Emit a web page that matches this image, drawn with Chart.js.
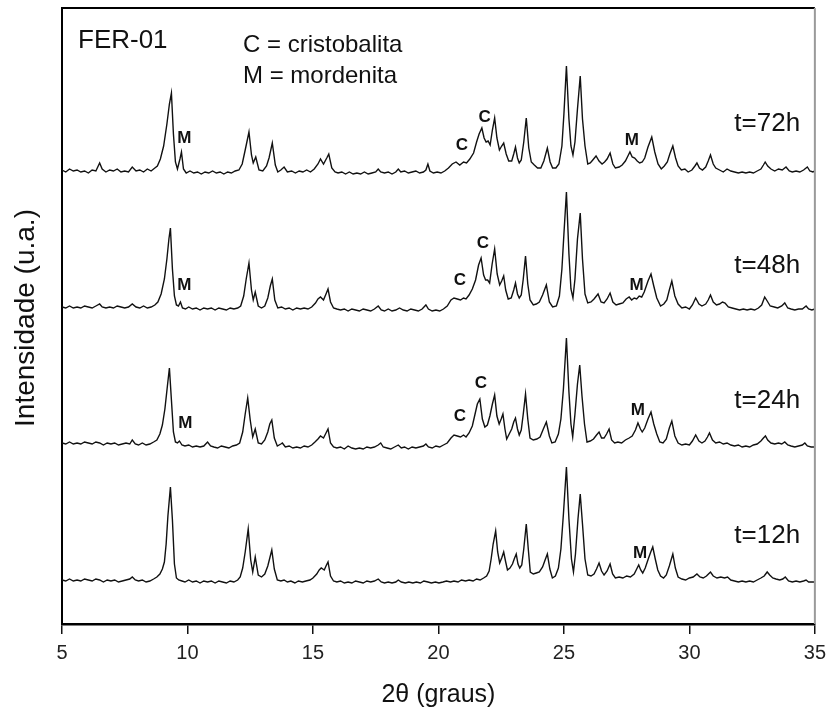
<!DOCTYPE html>
<html>
<head>
<meta charset="utf-8">
<script src="https://cdn.jsdelivr.net/npm/chart.js@4.4.0/dist/chart.umd.min.js"></script>
<style>
  body { margin: 0; background: #fff; }
  #wrap { width: 833px; height: 718px; position: relative; }
</style>
</head>
<body>
<div id="wrap"><canvas id="xrdChart"></canvas></div>
<script>
// 2theta (graus) and stacked intensity (u.a.)
const t72 = [[5.0,454],[5.15,452],[5.3,455],[5.45,453],[5.6,454],[5.75,452],[5.9,453],[6.05,451],[6.2,454],[6.35,453],[6.5,461],[6.6,455],[6.75,452],[6.9,454],[7.05,453],[7.2,455],[7.35,452],[7.5,453],[7.65,452],[7.8,457],[7.95,453],[8.1,454],[8.25,452],[8.4,455],[8.55,453],[8.7,456],[8.8,458],[8.92,465],[9.05,478],[9.18,500],[9.28,520],[9.36,531],[9.44,490],[9.52,462],[9.6,455],[9.7,465],[9.76,472],[9.84,455],[9.95,451],[10.1,453],[10.25,451],[10.4,452],[10.55,450],[10.7,452],[10.85,451],[11.0,453],[11.15,451],[11.3,452],[11.45,450],[11.6,452],[11.75,451],[11.9,453],[12.05,454],[12.18,460],[12.3,474],[12.45,492],[12.55,469],[12.62,461],[12.72,467],[12.85,454],[13.0,453],[13.15,458],[13.25,466],[13.38,481],[13.5,459],[13.6,452],[13.72,454],[13.85,457],[13.98,452],[14.15,453],[14.3,451],[14.45,453],[14.6,452],[14.75,454],[14.9,452],[15.05,455],[15.2,460],[15.3,465],[15.42,460],[15.55,466],[15.63,470],[15.75,456],[15.88,452],[16.0,451],[16.15,452],[16.3,450],[16.45,452],[16.6,450],[16.75,451],[16.9,450],[17.05,452],[17.2,450],[17.35,451],[17.5,452],[17.6,455],[17.7,452],[17.85,451],[18.0,452],[18.15,450],[18.3,452],[18.4,455],[18.5,452],[18.65,453],[18.8,451],[18.95,452],[19.1,453],[19.25,451],[19.4,452],[19.5,454],[19.58,460],[19.66,453],[19.8,451],[19.95,452],[20.1,451],[20.25,453],[20.4,456],[20.55,460],[20.7,462],[20.85,459],[21.0,462],[21.12,461],[21.25,465],[21.4,471],[21.52,482],[21.62,490],[21.73,496],[21.82,486],[21.9,482],[21.98,483],[22.06,479],[22.15,494],[22.24,506],[22.33,486],[22.43,474],[22.52,478],[22.6,481],[22.7,470],[22.8,463],[22.92,463],[23.0,470],[23.07,477],[23.15,466],[23.22,461],[23.3,464],[23.4,482],[23.5,506],[23.6,476],[23.7,462],[23.82,459],[23.95,456],[24.08,456],[24.2,463],[24.34,476],[24.45,462],[24.55,456],[24.68,456],[24.8,460],[24.92,478],[25.0,510],[25.1,558],[25.2,505],[25.28,478],[25.36,469],[25.44,482],[25.54,515],[25.65,548],[25.74,505],[25.84,478],[25.95,460],[26.05,461],[26.15,464],[26.28,468],[26.4,463],[26.52,460],[26.62,462],[26.72,465],[26.84,471],[26.95,460],[27.05,456],[27.2,457],[27.32,459],[27.45,463],[27.55,468],[27.63,472],[27.72,467],[27.82,466],[27.92,463],[28.02,461],[28.12,462],[28.22,466],[28.35,477],[28.5,487],[28.62,472],[28.75,460],[28.88,455],[29.0,458],[29.12,462],[29.22,470],[29.34,478],[29.45,466],[29.55,458],[29.68,454],[29.82,455],[29.95,452],[30.1,454],[30.22,458],[30.3,461],[30.4,456],[30.52,454],[30.65,457],[30.75,463],[30.84,469],[30.95,460],[31.05,456],[31.2,454],[31.35,452],[31.5,455],[31.65,453],[31.8,452],[31.95,451],[32.1,452],[32.25,451],[32.4,452],[32.55,451],[32.7,453],[32.85,455],[32.95,459],[33.02,462],[33.12,458],[33.25,455],[33.4,453],[33.55,455],[33.7,454],[33.85,457],[33.98,453],[34.1,452],[34.25,453],[34.4,452],[34.55,454],[34.7,457],[34.8,453],[34.92,452],[35.0,453]];

const t48 = [[5.0,317],[5.15,316],[5.3,318],[5.45,316],[5.6,317],[5.75,316],[5.9,318],[6.05,317],[6.2,316],[6.35,318],[6.5,320],[6.6,317],[6.75,316],[6.9,317],[7.05,316],[7.2,318],[7.35,317],[7.5,316],[7.65,317],[7.8,320],[7.95,317],[8.1,316],[8.25,318],[8.4,316],[8.55,317],[8.7,319],[8.82,322],[8.95,330],[9.08,345],[9.18,365],[9.26,385],[9.32,396],[9.4,355],[9.48,328],[9.56,319],[9.64,318],[9.72,322],[9.8,316],[9.92,315],[10.05,317],[10.2,315],[10.35,316],[10.5,314],[10.65,316],[10.8,315],[10.95,316],[11.1,314],[11.25,316],[11.4,315],[11.55,314],[11.7,316],[11.85,315],[12.0,316],[12.12,318],[12.24,328],[12.34,345],[12.45,361],[12.55,334],[12.62,324],[12.7,332],[12.82,318],[12.95,316],[13.08,318],[13.2,326],[13.3,338],[13.38,345],[13.48,324],[13.6,316],[13.75,317],[13.9,315],[14.05,316],[14.2,314],[14.35,316],[14.5,315],[14.65,316],[14.8,315],[14.95,317],[15.1,321],[15.2,325],[15.3,327],[15.42,324],[15.52,330],[15.6,335],[15.7,322],[15.82,316],[15.95,315],[16.1,314],[16.25,315],[16.4,313],[16.55,315],[16.7,314],[16.85,313],[17.0,315],[17.15,314],[17.3,313],[17.45,315],[17.6,318],[17.72,314],[17.85,313],[18.0,315],[18.15,313],[18.3,314],[18.45,316],[18.6,314],[18.75,313],[18.9,315],[19.05,314],[19.2,313],[19.35,315],[19.5,319],[19.6,315],[19.75,313],[19.9,314],[20.05,313],[20.2,315],[20.35,318],[20.5,324],[20.62,326],[20.75,325],[20.88,324],[21.0,326],[21.1,325],[21.22,329],[21.35,335],[21.48,344],[21.6,359],[21.7,366],[21.8,349],[21.88,344],[21.96,344],[22.04,341],[22.14,360],[22.24,375],[22.34,350],[22.44,339],[22.52,343],[22.6,348],[22.68,334],[22.78,325],[22.9,326],[23.0,334],[23.07,341],[23.15,330],[23.22,326],[23.3,329],[23.38,345],[23.47,368],[23.56,340],[23.65,324],[23.78,319],[23.9,320],[24.02,322],[24.15,329],[24.3,339],[24.42,322],[24.55,317],[24.7,318],[24.82,328],[24.92,355],[25.0,390],[25.1,432],[25.2,370],[25.28,335],[25.36,326],[25.44,345],[25.54,385],[25.65,411],[25.74,365],[25.84,330],[25.95,321],[26.08,322],[26.2,325],[26.36,330],[26.48,322],[26.6,321],[26.72,325],[26.84,331],[26.95,322],[27.08,319],[27.2,320],[27.35,321],[27.48,325],[27.6,327],[27.7,324],[27.8,326],[27.9,325],[28.0,328],[28.1,327],[28.2,332],[28.35,343],[28.47,350],[28.58,338],[28.7,326],[28.85,318],[28.98,320],[29.1,324],[29.2,334],[29.3,343],[29.42,328],[29.55,320],[29.7,316],[29.85,317],[30.0,315],[30.12,319],[30.25,326],[30.38,320],[30.5,318],[30.65,320],[30.75,324],[30.84,329],[30.95,322],[31.08,319],[31.2,320],[31.32,322],[31.42,321],[31.55,317],[31.7,316],[31.85,315],[32.0,314],[32.15,315],[32.3,314],[32.45,315],[32.6,314],[32.75,316],[32.88,319],[33.0,327],[33.1,323],[33.22,318],[33.38,317],[33.52,316],[33.68,318],[33.8,321],[33.92,316],[34.05,315],[34.2,314],[34.35,315],[34.5,315],[34.65,318],[34.75,315],[34.88,314],[35.0,315]];

const t24 = [[5.0,181],[5.15,180],[5.3,182],[5.45,180],[5.6,181],[5.75,180],[5.9,182],[6.05,181],[6.2,180],[6.35,182],[6.5,181],[6.65,179],[6.8,181],[6.95,180],[7.1,181],[7.25,179],[7.4,180],[7.55,181],[7.7,180],[7.8,184],[7.92,180],[8.05,179],[8.2,181],[8.35,179],[8.5,180],[8.65,182],[8.78,184],[8.9,190],[9.0,199],[9.1,215],[9.2,238],[9.28,256],[9.36,224],[9.44,192],[9.52,182],[9.6,181],[9.68,183],[9.78,179],[9.9,178],[10.05,179],[10.2,177],[10.35,178],[10.5,177],[10.65,178],[10.8,182],[10.92,178],[11.05,177],[11.2,176],[11.35,178],[11.5,177],[11.65,176],[11.8,178],[11.95,179],[12.08,181],[12.2,192],[12.3,210],[12.4,226],[12.5,204],[12.6,187],[12.7,195],[12.82,181],[12.95,180],[13.08,184],[13.2,192],[13.28,200],[13.36,204],[13.46,186],[13.58,178],[13.72,180],[13.78,181],[13.9,177],[14.05,178],[14.2,176],[14.35,177],[14.5,176],[14.65,178],[14.8,177],[14.95,179],[15.08,182],[15.2,185],[15.3,188],[15.42,186],[15.52,191],[15.6,195],[15.7,181],[15.82,177],[15.95,176],[16.1,177],[16.25,175],[16.4,178],[16.55,176],[16.7,175],[16.85,176],[17.0,175],[17.15,177],[17.3,176],[17.45,177],[17.6,179],[17.7,181],[17.8,177],[17.95,176],[18.1,175],[18.25,177],[18.4,179],[18.52,176],[18.65,177],[18.8,175],[18.95,177],[19.1,176],[19.25,177],[19.4,178],[19.5,180],[19.6,177],[19.75,176],[19.9,178],[20.05,177],[20.2,179],[20.35,181],[20.5,186],[20.62,189],[20.75,188],[20.88,187],[21.0,189],[21.1,187],[21.22,191],[21.35,198],[21.45,209],[21.55,220],[21.65,225],[21.75,205],[21.85,197],[21.95,199],[22.05,208],[22.15,220],[22.24,229],[22.33,208],[22.42,200],[22.5,205],[22.57,210],[22.65,195],[22.72,185],[22.82,190],[22.92,195],[23.0,202],[23.07,206],[23.15,195],[23.22,189],[23.3,194],[23.38,210],[23.47,230],[23.56,205],[23.65,186],[23.78,184],[23.92,185],[24.05,187],[24.18,195],[24.3,202],[24.42,188],[24.52,181],[24.65,182],[24.78,190],[24.88,205],[24.98,235],[25.1,286],[25.2,232],[25.28,200],[25.35,187],[25.44,210],[25.54,240],[25.63,259],[25.72,228],[25.82,200],[25.92,182],[26.05,183],[26.18,185],[26.3,189],[26.4,192],[26.5,186],[26.6,186],[26.7,190],[26.8,195],[26.9,184],[27.02,181],[27.15,182],[27.3,181],[27.45,184],[27.6,186],[27.72,188],[27.85,194],[27.95,201],[28.05,195],[28.12,192],[28.22,196],[28.35,205],[28.47,212],[28.58,200],[28.7,190],[28.82,182],[28.95,181],[29.08,185],[29.2,196],[29.3,203],[29.42,188],[29.55,181],[29.7,179],[29.85,180],[30.0,179],[30.12,183],[30.25,189],[30.38,183],[30.5,181],[30.62,183],[30.72,187],[30.8,191],[30.92,184],[31.05,181],[31.2,182],[31.35,180],[31.5,181],[31.65,179],[31.8,178],[31.95,179],[32.1,177],[32.25,178],[32.4,177],[32.55,179],[32.7,180],[32.85,183],[32.95,186],[33.03,188],[33.12,184],[33.25,181],[33.4,180],[33.55,181],[33.68,180],[33.8,182],[33.92,179],[34.05,178],[34.2,177],[34.35,178],[34.5,179],[34.6,181],[34.7,178],[34.85,177],[35.0,177]];

const t12 = [[5.0,44],[5.15,43],[5.3,45],[5.45,43],[5.6,44],[5.75,43],[5.9,45],[6.05,44],[6.2,43],[6.35,45],[6.5,44],[6.65,42],[6.8,44],[6.95,43],[7.1,44],[7.25,42],[7.4,43],[7.55,44],[7.7,45],[7.8,47],[7.92,44],[8.05,43],[8.2,44],[8.35,42],[8.5,43],[8.65,45],[8.78,47],[8.9,50],[9.0,55],[9.08,62],[9.15,80],[9.22,108],[9.32,137],[9.4,104],[9.48,60],[9.56,46],[9.65,44],[9.78,43],[9.9,42],[10.05,44],[10.2,42],[10.35,43],[10.5,41],[10.65,43],[10.8,42],[10.95,43],[11.1,41],[11.25,43],[11.4,42],[11.55,41],[11.7,43],[11.85,42],[12.0,44],[12.1,47],[12.2,56],[12.3,72],[12.42,95],[12.52,64],[12.6,52],[12.7,67],[12.82,49],[12.95,47],[13.08,50],[13.2,58],[13.28,66],[13.36,74],[13.46,55],[13.58,44],[13.72,43],[13.85,44],[13.98,42],[14.12,43],[14.28,41],[14.42,43],[14.58,42],[14.72,43],[14.88,44],[15.0,46],[15.15,50],[15.25,54],[15.33,56],[15.45,54],[15.52,58],[15.6,62],[15.7,48],[15.82,43],[15.95,42],[16.1,43],[16.25,41],[16.4,42],[16.55,41],[16.7,43],[16.85,42],[17.0,41],[17.15,43],[17.3,42],[17.45,43],[17.6,45],[17.72,42],[17.85,41],[18.0,42],[18.15,41],[18.3,42],[18.4,44],[18.52,42],[18.68,41],[18.82,42],[18.98,41],[19.12,42],[19.28,41],[19.42,43],[19.58,42],[19.72,41],[19.88,42],[20.02,41],[20.18,42],[20.32,43],[20.48,42],[20.62,43],[20.78,42],[20.92,44],[21.08,43],[21.22,44],[21.38,43],[21.52,45],[21.66,44],[21.8,46],[21.92,48],[22.02,53],[22.1,65],[22.18,80],[22.28,93],[22.36,72],[22.44,61],[22.52,66],[22.6,72],[22.68,62],[22.75,54],[22.85,56],[22.95,60],[23.02,65],[23.1,70],[23.17,60],[23.24,56],[23.32,59],[23.4,75],[23.5,100],[23.58,75],[23.66,52],[23.78,50],[23.9,51],[24.02,52],[24.15,57],[24.25,64],[24.34,70],[24.44,55],[24.54,46],[24.66,48],[24.78,56],[24.88,75],[24.98,110],[25.1,157],[25.2,105],[25.3,65],[25.38,52],[25.46,70],[25.56,105],[25.65,130],[25.74,100],[25.84,65],[25.95,49],[26.08,48],[26.2,50],[26.3,55],[26.4,61],[26.5,53],[26.6,49],[26.72,53],[26.84,60],[26.94,50],[27.05,46],[27.2,47],[27.35,46],[27.5,48],[27.65,47],[27.8,50],[27.9,55],[27.98,59],[28.06,54],[28.14,51],[28.24,56],[28.36,65],[28.46,72],[28.54,77],[28.64,65],[28.74,54],[28.85,48],[28.97,46],[29.08,49],[29.2,58],[29.34,70],[29.44,56],[29.55,47],[29.7,45],[29.85,44],[30.0,46],[30.15,47],[30.3,50],[30.42,47],[30.55,46],[30.68,48],[30.76,50],[30.84,52],[30.95,48],[31.1,46],[31.25,47],[31.4,46],[31.52,47],[31.65,44],[31.8,43],[31.95,42],[32.1,43],[32.25,42],[32.4,43],[32.55,42],[32.7,44],[32.85,46],[32.98,48],[33.1,52],[33.2,49],[33.32,46],[33.45,45],[33.6,44],[33.72,45],[33.82,47],[33.95,43],[34.1,42],[34.25,43],[34.4,42],[34.55,43],[34.65,44],[34.75,42],[34.9,42],[35.0,42]];

const xTicks = [5, 10, 15, 20, 25, 30, 35];

// sample labels (t=..h) and phase marks: [text, 2theta, intensity]
const sampleLabels = [['t=72h', 33.1, 493], ['t=48h', 33.1, 351], ['t=24h', 33.1, 216], ['t=12h', 33.1, 81]];
const phaseMarks = [
    ['M', 9.87, 481], ['C', 20.93, 474], ['C', 21.84, 502], ['M', 27.71, 479],
    ['M', 9.87, 334], ['C', 20.85, 339], ['C', 21.77, 376], ['M', 27.9, 334],
    ['M', 9.91, 196], ['C', 20.85, 203], ['C', 21.69, 236], ['M', 27.95, 209],
    ['M', 28.03, 66]
];

const FONT = '"Liberation Sans", Arial, Helvetica, sans-serif';

const toXY = arr => arr.map(p => ({ x: p[0], y: p[1] }));

const lineStyle = {
    showLine: true,
    pointRadius: 0,
    borderColor: '#111',
    borderWidth: 1.4,
    tension: 0,
    fill: false
};

const annotationsPlugin = {
    id: 'annotations',
    afterDraw(chart) {
        const { ctx, chartArea: a, scales: { x, y } } = chart;
        ctx.save();

        // top and right sides of the frame
        ctx.lineWidth = 2;
        ctx.strokeStyle = '#000';
        ctx.beginPath();
        ctx.moveTo(a.left - 1, a.top);
        ctx.lineTo(a.right, a.top);
        ctx.stroke();
        ctx.strokeStyle = '#9a9a9a';
        ctx.beginPath();
        ctx.moveTo(a.right, a.top);
        ctx.lineTo(a.right, a.bottom);
        ctx.stroke();

        ctx.fillStyle = '#111';
        ctx.textBaseline = 'alphabetic';

        ctx.textAlign = 'left';
        ctx.font = '26px ' + FONT;
        ctx.fillText('FER-01', a.left + 16, a.top + 40);
        ctx.font = '24px ' + FONT;
        ctx.fillText('C = cristobalita', a.left + 181, a.top + 44);
        ctx.fillText('M = mordenita', a.left + 181, a.top + 75);

        ctx.textAlign = 'center';
        ctx.font = '26px ' + FONT;
        sampleLabels.forEach(([txt, tx, ty]) => {
            ctx.fillText(txt, x.getPixelForValue(tx), y.getPixelForValue(ty));
        });

        ctx.font = 'bold 17px ' + FONT;
        phaseMarks.forEach(([txt, tx, ty]) => {
            ctx.fillText(txt, x.getPixelForValue(tx), y.getPixelForValue(ty));
        });

        // axis titles
        ctx.font = '28px ' + FONT;
        ctx.save();
        ctx.translate(34, (a.top + a.bottom) / 2 + 2);
        ctx.rotate(-Math.PI / 2);
        ctx.fillText('Intensidade (u.a.)', 0, 0);
        ctx.restore();

        ctx.font = '25px ' + FONT;
        ctx.fillText('2\u03B8 (graus)', (a.left + a.right) / 2, 702);

        ctx.restore();
    }
};

new Chart(document.getElementById('xrdChart'), {
    type: 'scatter',
    data: {
        datasets: [
            { label: 't=72h', data: toXY(t72), ...lineStyle },
            { label: 't=48h', data: toXY(t48), ...lineStyle },
            { label: 't=24h', data: toXY(t24), ...lineStyle },
            { label: 't=12h', data: toXY(t12), ...lineStyle }
        ]
    },
    options: {
        responsive: true,
        maintainAspectRatio: false,
        animation: false,
        layout: { padding: { top: 8, right: 14, left: 0, bottom: 0 } },
        plugins: {
            legend: { display: false },
            tooltip: { enabled: false }
        },
        scales: {
            x: {
                type: 'linear',
                min: 5,
                max: 35,
                afterFit: scale => { scale.height = 94; },
                afterBuildTicks: scale => { scale.ticks = xTicks.map(v => ({ value: v })); },
                ticks: {
                    color: '#222',
                    font: { family: FONT, size: 20 },
                    padding: 7,
                    maxRotation: 0
                },
                grid: {
                    drawOnChartArea: false,
                    drawTicks: true,
                    tickLength: 10,
                    color: '#111',
                    lineWidth: 1.5
                },
                border: { display: true, color: '#000', width: 2.5 }
            },
            y: {
                type: 'linear',
                min: 0,
                max: 616,
                afterFit: scale => { scale.width = 62; },
                ticks: { display: false },
                grid: { drawOnChartArea: false, drawTicks: false, color: 'rgba(0,0,0,0)' },
                border: { display: true, color: '#000', width: 2 }
            }
        }
    },
    plugins: [annotationsPlugin]
});
</script>
</body>
</html>
